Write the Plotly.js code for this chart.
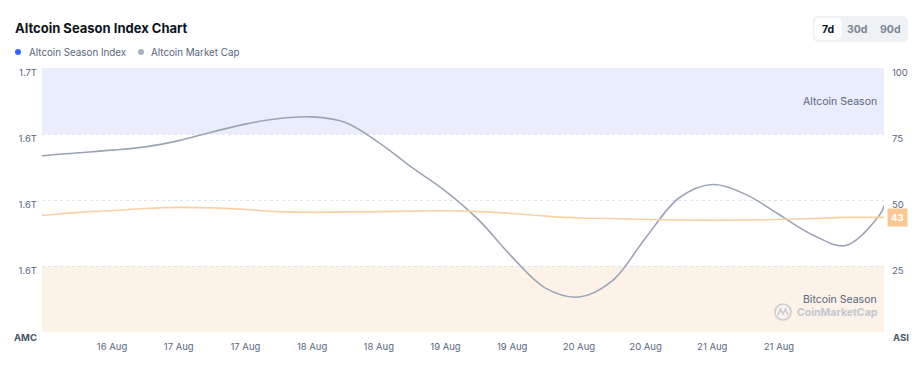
<!DOCTYPE html>
<html>
<head>
<meta charset="utf-8">
<script src="https://cdn.plot.ly/plotly-3.0.1.min.js"></script>
<style>
  html, body { margin: 0; padding: 0; background: #ffffff; }
  #chart { width: 918px; height: 379px; }
</style>
</head>
<body>
<div id="chart"></div>
<script>
// ---- data ----
const times = [
  '2024-08-15 23:00', '2024-08-16 00:00', '2024-08-16 06:00', '2024-08-16 12:00', '2024-08-16 18:00',
  '2024-08-17 00:00', '2024-08-17 06:00', '2024-08-17 12:00', '2024-08-17 18:00',
  '2024-08-18 00:00', '2024-08-18 06:00', '2024-08-18 12:00', '2024-08-18 18:00',
  '2024-08-19 00:00', '2024-08-19 06:00', '2024-08-19 12:00', '2024-08-19 18:00',
  '2024-08-20 00:00', '2024-08-20 06:00', '2024-08-20 12:00', '2024-08-20 18:00',
  '2024-08-21 00:00', '2024-08-21 06:00', '2024-08-21 12:00', '2024-08-21 18:00',
  '2024-08-22 00:00', '2024-08-22 06:00', '2024-08-22 07:00'
];
// Altcoin Market Cap, trillions USD
const marketCapT = [
  1.6333, 1.6335, 1.6343, 1.6351, 1.6361, 1.6380, 1.6406, 1.6430, 1.6447,
  1.6452, 1.6435, 1.6374, 1.6298, 1.6227, 1.6139, 1.6027, 1.5933,
  1.5906, 1.5955, 1.6085, 1.6206, 1.6247, 1.6217, 1.6156, 1.6095,
  1.6062, 1.6152, 1.6185
];
// Altcoin Season Index (0-100)
const seasonIndex = [
  44.2, 44.3, 45.3, 46.0, 46.8, 47.2, 47.0, 46.4, 45.6,
  45.3, 45.5, 45.6, 45.8, 45.9, 45.6, 44.9, 43.9,
  43.2, 43.0, 42.6, 42.4, 42.3, 42.4, 42.6, 43.0,
  43.4, 43.4, 43.4
];
const latestIndex = 43;
const xTickVals = [
  '2024-08-16 12:00', '2024-08-17 00:00', '2024-08-17 12:00', '2024-08-18 00:00',
  '2024-08-18 12:00', '2024-08-19 00:00', '2024-08-19 12:00', '2024-08-20 00:00',
  '2024-08-20 12:00', '2024-08-21 00:00', '2024-08-21 12:00'
];
const xTickText = ['16 Aug', '17 Aug', '17 Aug', '18 Aug', '18 Aug', '19 Aug', '19 Aug', '20 Aug', '20 Aug', '21 Aug', '21 Aug'];
const capTickVals = [1.60, 1.62, 1.64, 1.66];
const capTickText = ['1.6T', '1.6T', '1.6T', '1.7T'];
const idxTickVals = [25, 50, 75, 100];
const idxTickText = ['25', '50', '75', '100'];
const seasonBands = [
  { name: 'Altcoin Season', from: 75, to: 100 },
  { name: 'Bitcoin Season', from: 0, to: 25 }
];

// ---- geometry helpers ----
const W = 918, H = 379;
const L = 42, R = 884, T = 68, B = 332;
const px = x => (x - L) / (R - L);
const py = y => (B - y) / (B - T);

function roundRect(w, h, r) {
  const a = -w / 2, b = w / 2, c = -h / 2, d = h / 2;
  return `M ${a + r},${c} L ${b - r},${c} Q ${b},${c} ${b},${c + r} L ${b},${d - r} Q ${b},${d} ${b - r},${d} ` +
         `L ${a + r},${d} Q ${a},${d} ${a},${d - r} L ${a},${c + r} Q ${a},${c} ${a + r},${c} Z`;
}
function pixShape(cx, cy, path, fill, line) {
  return {
    type: 'path', xref: 'paper', yref: 'paper', xsizemode: 'pixel', ysizemode: 'pixel',
    xanchor: px(cx), yanchor: py(cy), path: path,
    fillcolor: fill, line: line || { width: 0 }, layer: 'above'
  };
}
function dot(cx, cy, r, color) {
  return {
    type: 'circle', xref: 'paper', yref: 'paper', xsizemode: 'pixel', ysizemode: 'pixel',
    xanchor: px(cx), yanchor: py(cy), x0: -r, x1: r, y0: -r, y1: r,
    fillcolor: color, line: { width: 0 }
  };
}

const FONT = 'Inter, "Noto Sans", sans-serif';
const GRAY = '#58667e';

const traces = [
  {
    x: times, y: marketCapT, type: 'scatter', mode: 'lines', name: 'Altcoin Market Cap',
    yaxis: 'y', line: { color: '#9ba4b6', width: 1.6, shape: 'spline', smoothing: 1 },
    hoverinfo: 'skip'
  },
  {
    x: times, y: seasonIndex, type: 'scatter', mode: 'lines', name: 'Altcoin Season Index',
    yaxis: 'y2', line: { color: '#f9d0a6', width: 1.6, shape: 'spline', smoothing: 1 },
    hoverinfo: 'skip'
  }
];

const bandColors = { 'Altcoin Season': '#eaedfd', 'Bitcoin Season': '#fdf2e8' };
const shapes = seasonBands.map(b => ({
  type: 'rect', xref: 'paper', yref: 'y2', x0: 0, x1: 1, y0: b.from, y1: b.to,
  fillcolor: bandColors[b.name], line: { width: 0 }, layer: 'below'
}));

// legend dots
shapes.push(dot(18, 52, 3, '#3861fb'));
shapes.push(dot(141, 52, 3, '#a6b0c3'));
// range buttons
shapes.push(pixShape(860.5, 29, roundRect(95, 26, 6), '#eff2f5'));
shapes.push(pixShape(828, 29, roundRect(27, 22, 5), '#ffffff'));
// watermark logo
shapes.push({
  type: 'circle', xref: 'paper', yref: 'paper', xsizemode: 'pixel', ysizemode: 'pixel',
  xanchor: px(783), yanchor: py(312), x0: -8, x1: 8, y0: -8, y1: 8,
  fillcolor: 'rgba(0,0,0,0)', line: { color: '#c9ccd3', width: 1.6 }, layer: 'above'
});
shapes.push(pixShape(783, 312, 'M -5,-3 L -2.5,3 L 0,-2 L 2.5,3 L 5,-3', 'rgba(0,0,0,0)', { color: '#c9ccd3', width: 1.6 }));

const annotations = [
  { text: 'Altcoin Season Index', xref: 'paper', yref: 'paper', x: px(27), y: py(52), xanchor: 'left', yanchor: 'middle',
    showarrow: false, font: { family: FONT, size: 9.8, color: GRAY } },
  { text: 'Altcoin Market Cap', xref: 'paper', yref: 'paper', x: px(149), y: py(52), xanchor: 'left', yanchor: 'middle',
    showarrow: false, font: { family: FONT, size: 9.8, color: GRAY } },
  { text: '<b>7d</b>', xref: 'paper', yref: 'paper', x: px(828), y: py(29), xanchor: 'center', yanchor: 'middle',
    showarrow: false, font: { family: FONT, size: 10.5, color: '#0d1421' } },
  { text: '<b>30d</b>', xref: 'paper', yref: 'paper', x: px(857), y: py(29), xanchor: 'center', yanchor: 'middle',
    showarrow: false, font: { family: FONT, size: 10.5, color: '#7b8598' } },
  { text: '<b>90d</b>', xref: 'paper', yref: 'paper', x: px(890), y: py(29), xanchor: 'center', yanchor: 'middle',
    showarrow: false, font: { family: FONT, size: 10.5, color: '#7b8598' } },
  { text: 'Altcoin Season', xref: 'paper', yref: 'y2', x: px(879), y: 87.5, xanchor: 'right', yanchor: 'middle',
    showarrow: false, font: { family: FONT, size: 10.5, color: GRAY } },
  { text: 'Bitcoin Season', xref: 'paper', yref: 'paper', x: px(879), y: py(299.5), xanchor: 'right', yanchor: 'middle',
    showarrow: false, font: { family: FONT, size: 10.5, color: GRAY } },
  { text: '<b>CoinMarketCap</b>', xref: 'paper', yref: 'paper', x: px(880), y: py(312.5), xanchor: 'right', yanchor: 'middle',
    showarrow: false, font: { family: FONT, size: 10.5, color: '#c4c8d0' } },
  { text: '<b>AMC</b>', xref: 'paper', yref: 'paper', x: px(39), y: py(337), xanchor: 'right', yanchor: 'middle',
    showarrow: false, font: { family: FONT, size: 9.5, color: '#4a5568' } },
  { text: '<b>ASI</b>', xref: 'paper', yref: 'paper', x: px(891), y: py(337), xanchor: 'left', yanchor: 'middle',
    showarrow: false, font: { family: FONT, size: 9.5, color: '#4a5568' } },
  { text: '<b>' + latestIndex + '</b>', xref: 'paper', yref: 'y2', x: px(887), y: seasonIndex[seasonIndex.length - 2],
    xanchor: 'left', yanchor: 'middle', showarrow: false, bgcolor: '#f8c995', borderpad: 3,
    font: { family: FONT, size: 9.5, color: '#ffffff' } }
];

const layout = {
  width: W, height: H,
  margin: { l: L, r: W - R, t: T, b: H - B, pad: 0 },
  paper_bgcolor: '#ffffff', plot_bgcolor: '#ffffff',
  showlegend: false,
  font: { family: FONT, color: GRAY, size: 9.5 },
  title: {
    text: '<b>Altcoin Season Index Chart</b>', xref: 'container', yref: 'container',
    x: 15 / W, y: 1 - 28 / H, xanchor: 'left', yanchor: 'middle',
    font: { family: FONT, size: 13, color: '#0d1421' }
  },
  xaxis: {
    type: 'date', range: ['2024-08-15 23:24', '2024-08-22 06:54'],
    tickmode: 'array', tickvals: xTickVals, ticktext: xTickText,
    showgrid: false, zeroline: false, showline: false, ticks: '',
    ticklabelstandoff: 7, tickfont: { family: FONT, size: 9.5, color: GRAY },
    fixedrange: true
  },
  yaxis: {
    range: [1.58, 1.66], side: 'left',
    tickmode: 'array', tickvals: capTickVals, ticktext: capTickText,
    showgrid: false, zeroline: false, showline: false, ticks: '',
    ticklabelstandoff: 4, ticklabelshift: 5,
    tickfont: { family: FONT, size: 9.5, color: GRAY }, fixedrange: true
  },
  yaxis2: {
    range: [0, 100], side: 'right', overlaying: 'y',
    tickmode: 'array', tickvals: idxTickVals, ticktext: idxTickText,
    showgrid: true, gridcolor: '#dfe3ea', griddash: 'dot', gridwidth: 1,
    zeroline: false, showline: false, ticks: '',
    ticklabelstandoff: 7, ticklabelshift: 5,
    tickfont: { family: FONT, size: 9.5, color: GRAY }, fixedrange: true
  },
  shapes: shapes,
  annotations: annotations
};

Plotly.newPlot('chart', traces, layout, { displayModeBar: false, staticPlot: true });
</script>
</body>
</html>
